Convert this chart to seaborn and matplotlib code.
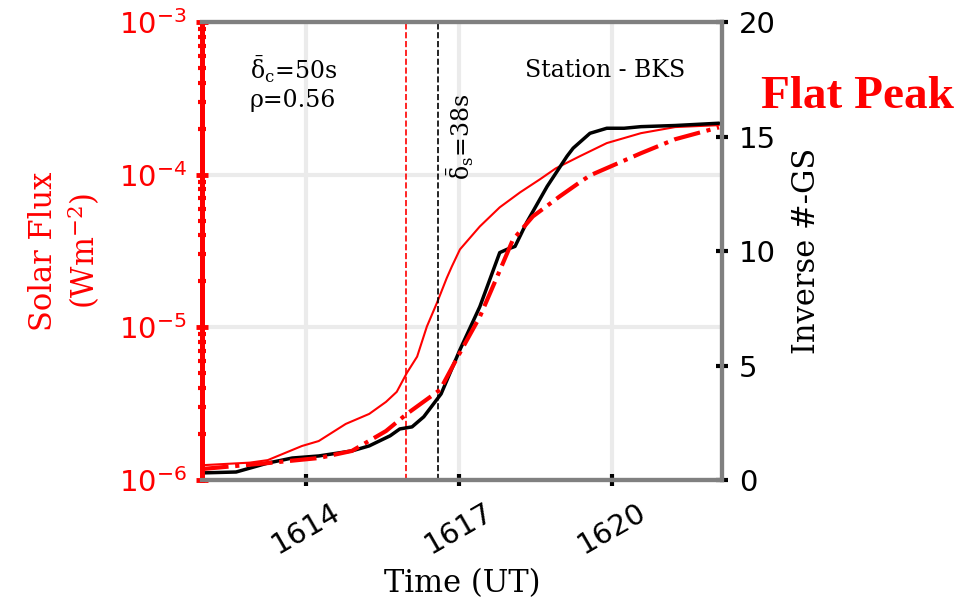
"""Solar flux vs inverse GS count at station BKS (flat peak flare)."""
import numpy as np
import pandas as pd
import matplotlib
matplotlib.use("Agg")
import matplotlib.pyplot as plt
import seaborn as sns
from matplotlib.ticker import LogLocator

# thin red line: solar flux (left, log axis)
flux_time = [1611.96, 1612.90, 1613.25, 1613.92, 1614.25, 1614.78, 1615.24, 1615.57,
             1615.78, 1615.98, 1616.18, 1616.37, 1616.57, 1616.76, 1616.86, 1617.02,
             1617.41, 1617.80, 1618.20, 1618.59, 1618.90, 1619.37, 1619.90, 1620.57,
             1621.24, 1622.10]
flux = [1.25e-6, 1.30e-6, 1.35e-6, 1.67e-6, 1.80e-6, 2.33e-6, 2.71e-6, 3.25e-6,
        3.78e-6, 5.04e-6, 6.43e-6, 1.01e-5, 1.45e-5, 2.10e-5, 2.50e-5, 3.24e-5,
        4.58e-5, 6.11e-5, 7.66e-5, 9.33e-5, 1.10e-4, 1.32e-4, 1.61e-4, 1.87e-4,
        2.05e-4, 2.11e-4]

# black line: inverse #-GS (right axis)
gs_time = [1611.96, 1612.63, 1613.25, 1613.73, 1614.25, 1614.90, 1615.24, 1615.65,
           1615.84, 1616.08, 1616.31, 1616.65, 1617.02, 1617.41, 1617.80, 1617.94,
           1618.10, 1618.33, 1618.73, 1619.12, 1619.24, 1619.57, 1619.90, 1620.24,
           1620.57, 1621.24, 1622.10]
gs = [0.31, 0.35, 0.74, 0.96, 1.05, 1.27, 1.49, 1.93,
      2.23, 2.32, 2.76, 3.76, 5.69, 7.57, 9.93, 10.07,
      10.20, 11.25, 12.82, 14.14, 14.49, 15.14, 15.36, 15.36,
      15.43, 15.48, 15.58]

# red dash-dot line (right axis)
dd_time = [1611.96, 1613.25, 1614.25, 1614.90, 1615.57, 1615.98, 1616.63, 1617.02,
           1617.41, 1617.75, 1618.06, 1618.45, 1618.98, 1619.37, 1619.57, 1620.57,
           1621.24, 1622.10]
dd = [0.48, 0.74, 0.96, 1.27, 2.14, 2.89, 3.94, 5.56,
      7.13, 8.88, 10.50, 11.51, 12.39, 13.00, 13.30, 14.27,
      14.88, 15.40]

flux_peak_t = 1615.96   # red dashed
gs_peak_t = 1616.59     # black dashed
x_ticks = [1614, 1617, 1620]

sns.set_theme(style="whitegrid")
plt.rcParams.update({"mathtext.fontset": "dejavuserif", "text.color": "black",
                     "axes.labelcolor": "black", "xtick.color": "black",
                     "ytick.color": "black"})
serif = "DejaVu Serif"

fig = plt.figure(figsize=(9.65, 6.06), dpi=100)
ax = fig.add_axes([0.2093, 0.2079, 0.5389, 0.7558])
ax2 = ax.twinx()

sns.lineplot(x=flux_time, y=flux, ax=ax, color="red", lw=1.5, estimator=None)
sns.lineplot(x=gs_time, y=gs, ax=ax2, color="black", lw=2.5, estimator=None)
sns.lineplot(x=dd_time, y=dd, ax=ax2, color="red", lw=3, ls="-.", estimator=None)

ax.axvline(flux_peak_t, color="red", ls="--", lw=1.2)
ax.axvline(gs_peak_t, color="black", ls="--", lw=1.2)

ax.set_yscale("log")
ax.set_ylim(1e-6, 1e-3)
ax.set_xlim(1611.96, 1622.16)
ax2.set_ylim(0, 20)
ax2.set_yticks([0, 5, 10, 15, 20])
ax.set_xticks(x_ticks)
ax.yaxis.set_minor_locator(LogLocator(base=10, subs=np.arange(2, 10)))

ax.grid(True, which="major", color="#ebebeb", lw=3)
ax.grid(False, which="minor")
ax2.grid(False)
ax.set_facecolor("white")

for a in (ax, ax2):
    for s in ("top", "bottom", "right"):
        a.spines[s].set_color("#808080")
        a.spines[s].set_linewidth(3)
    a.spines["left"].set_color("red")
    a.spines["left"].set_linewidth(3.5)

ax.tick_params(axis="y", which="major", colors="red", direction="inout",
               length=8, width=3.5, labelsize=21, pad=7, left=True)
ax.tick_params(axis="y", which="minor", colors="red", direction="inout",
               length=6, width=3, left=True)
ax.tick_params(axis="x", colors="black", direction="inout", length=8, width=3,
               labelsize=21, pad=9, bottom=True)
ax2.tick_params(axis="y", colors="black", direction="inout", length=8, width=3,
                labelsize=21, pad=8, right=True)
plt.setp(ax.get_xticklabels(), rotation=30, ha="center")

ax.set_xlabel("Time (UT)", family=serif, fontsize=22, labelpad=6)
ax.set_ylabel("Solar Flux\n(Wm$^{-2}$)", family=serif, fontsize=22, color="red",
              labelpad=12)
ax2.set_ylabel("Inverse #-GS", family=serif, fontsize=22, color="black", labelpad=11)

ax.text(0.092, 0.93, r"$\bar{\mathrm{\delta}}_{\rm c}$=50s" + "\nρ=0.56",
        transform=ax.transAxes, family=serif, fontsize=17, ha="left", va="top")
ax.text(0.498, 0.75, r"$\bar{\mathrm{\delta}}_{\rm s}$=38s", transform=ax.transAxes,
        family=serif, fontsize=17, rotation=90, ha="center", va="center")
ax.text(0.621, 0.895, "Station - BKS", transform=ax.transAxes,
        family=serif, fontsize=17, ha="left", va="center")
fig.text(0.889, 0.84, "Flat Peak", family="Liberation Serif", fontweight="bold",
         fontsize=34, color="red", ha="center", va="center")

fig.savefig("out.png", dpi=100)
